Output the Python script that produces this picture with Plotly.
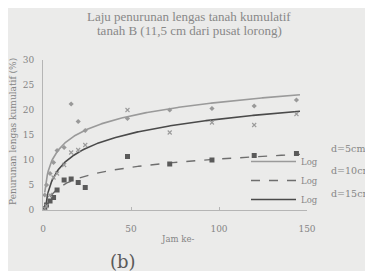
import numpy as np
import plotly.graph_objects as go

# ---- data ----
hours = [1, 2, 4, 6, 8, 12, 16, 20, 24, 48, 72, 96, 120, 144]
d5 = [3.0, 5.0, 7.3, 9.5, 11.9, 12.5, 21.2, 17.7, 15.9, 18.3, 20.0, 20.3, 20.8, 22.0]
d10 = [0.3, 1.0, 1.8, 2.5, 4.0, 6.0, 6.2, 5.5, 4.5, 10.7, 9.2, 10.0, 10.9, 11.3]
d15 = [0.3, 0.8, 3.0, 6.5, 7.3, 9.0, 11.5, 12.0, 13.0, 20.0, 15.5, 17.5, 17.0, 19.2]
series_names = ["d=5cm", "d=10cm", "d=15cm"]
x_ticks = [0, 50, 100, 150]
y_ticks = [0, 5, 10, 15, 20, 25, 30]
title_lines = ["Laju penurunan lengas tanah kumulatif", "tanah B (11,5 cm dari pusat lorong)"]

FONT = "DejaVu Serif"
TFONT = "Liberation Serif"
BG = "#ebebea"
TXT = "#858585"

# plot area in screen pixels (page has an 8px body offset)
PL, PR, PT, PB = 43, 307, 60, 210


def px(xp):
    return (xp - PL) / (PR - PL)


def py(yp):
    return (PB - yp) / (PB - PT)


fig = go.Figure()

# logarithmic trendlines (least-squares fit on ln(x), like a spreadsheet "Log" trendline)
xs = np.linspace(min(hours), 146, 300)
line_styles = [
    dict(color="#9a9a9a", width=1.6, dash="solid"),
    dict(color="#6e6e6e", width=1.4, dash="dash"),
    dict(color="#4a4a4a", width=1.6, dash="solid"),
]
for vals, st in zip([d5, d10, d15], line_styles):
    a, b = np.polyfit(np.log(hours), vals, 1)
    fig.add_trace(go.Scatter(x=xs, y=a * np.log(xs) + b, mode="lines",
                             line=st, name="Log", showlegend=True,
                             hoverinfo="skip"))

marker_styles = [
    dict(symbol="diamond", size=4, color="#999999"),
    dict(symbol="square", size=5, color="#5a5a5a"),
    dict(symbol="x-thin-open", size=4, color="#9a9a9a", line=dict(width=1.1, color="#9a9a9a")),
]
for vals, ms, nm in zip([d5, d10, d15], marker_styles, series_names):
    fig.add_trace(go.Scatter(x=hours, y=vals, mode="markers", marker=ms,
                             name=nm, showlegend=False))

# series labels beside the legend
for nm, ypx in zip(series_names, [148, 170, 193]):
    fig.add_annotation(text=nm, xref="paper", yref="paper",
                       x=px(329), y=py(ypx),
                       xanchor="left", yanchor="middle", showarrow=False,
                       font=dict(family=FONT, size=9.5, color=TXT))

# title lines
for t, ypx in zip(title_lines, [16, 31]):
    fig.add_annotation(text=t, xref="paper", yref="paper", x=px(189), y=py(ypx),
                       xanchor="center", yanchor="middle", showarrow=False,
                       font=dict(family=TFONT, size=13, color="#888888"))

# axis titles
fig.add_annotation(text="Jam ke-", xref="paper", yref="paper", x=px(177), y=py(239),
                   xanchor="center", yanchor="middle", showarrow=False,
                   font=dict(family=FONT, size=8.5, color=TXT))
fig.add_annotation(text="Penurunan lengas kumulatif (%)", xref="paper", yref="paper",
                   x=px(13), y=py(132), textangle=-90,
                   xanchor="center", yanchor="middle", showarrow=False,
                   font=dict(family=FONT, size=9, color=TXT))

fig.add_annotation(text="(b)", xref="paper", yref="paper",
                   x=px(123), y=py(261),
                   xanchor="center", yanchor="middle", showarrow=False,
                   font=dict(family=FONT, size=18, color="#5a5a5a"))

fig.update_layout(
    width=373, height=271,
    margin=dict(l=PL - 8, r=373 - (PR - 8), t=PT - 8, b=271 - (PB - 8), autoexpand=False),
    paper_bgcolor=BG, plot_bgcolor=BG,
    font=dict(family=FONT, size=8, color=TXT),
    legend=dict(x=px(246), y=py(147), xanchor="left", yanchor="top",
                bgcolor="rgba(0,0,0,0)", font=dict(family=FONT, size=8.5, color=TXT),
                tracegroupgap=0, itemwidth=45),
    xaxis=dict(range=[0, 150], tickvals=x_ticks, showgrid=False, zeroline=False,
               showline=True, linecolor="#b5b5b5", linewidth=1, automargin=False,
               ticks="inside", ticklen=3, tickcolor="#b5b5b5", ticklabelstandoff=10,
               tickfont=dict(family=FONT, size=9, color=TXT)),
    yaxis=dict(range=[0, 30], tickvals=y_ticks, showgrid=False, zeroline=False,
               showline=True, linecolor="#b5b5b5", linewidth=1, automargin=False,
               ticklabelstandoff=6,
               tickfont=dict(family=FONT, size=9, color=TXT)),
)

fig.write_html("out.html")
